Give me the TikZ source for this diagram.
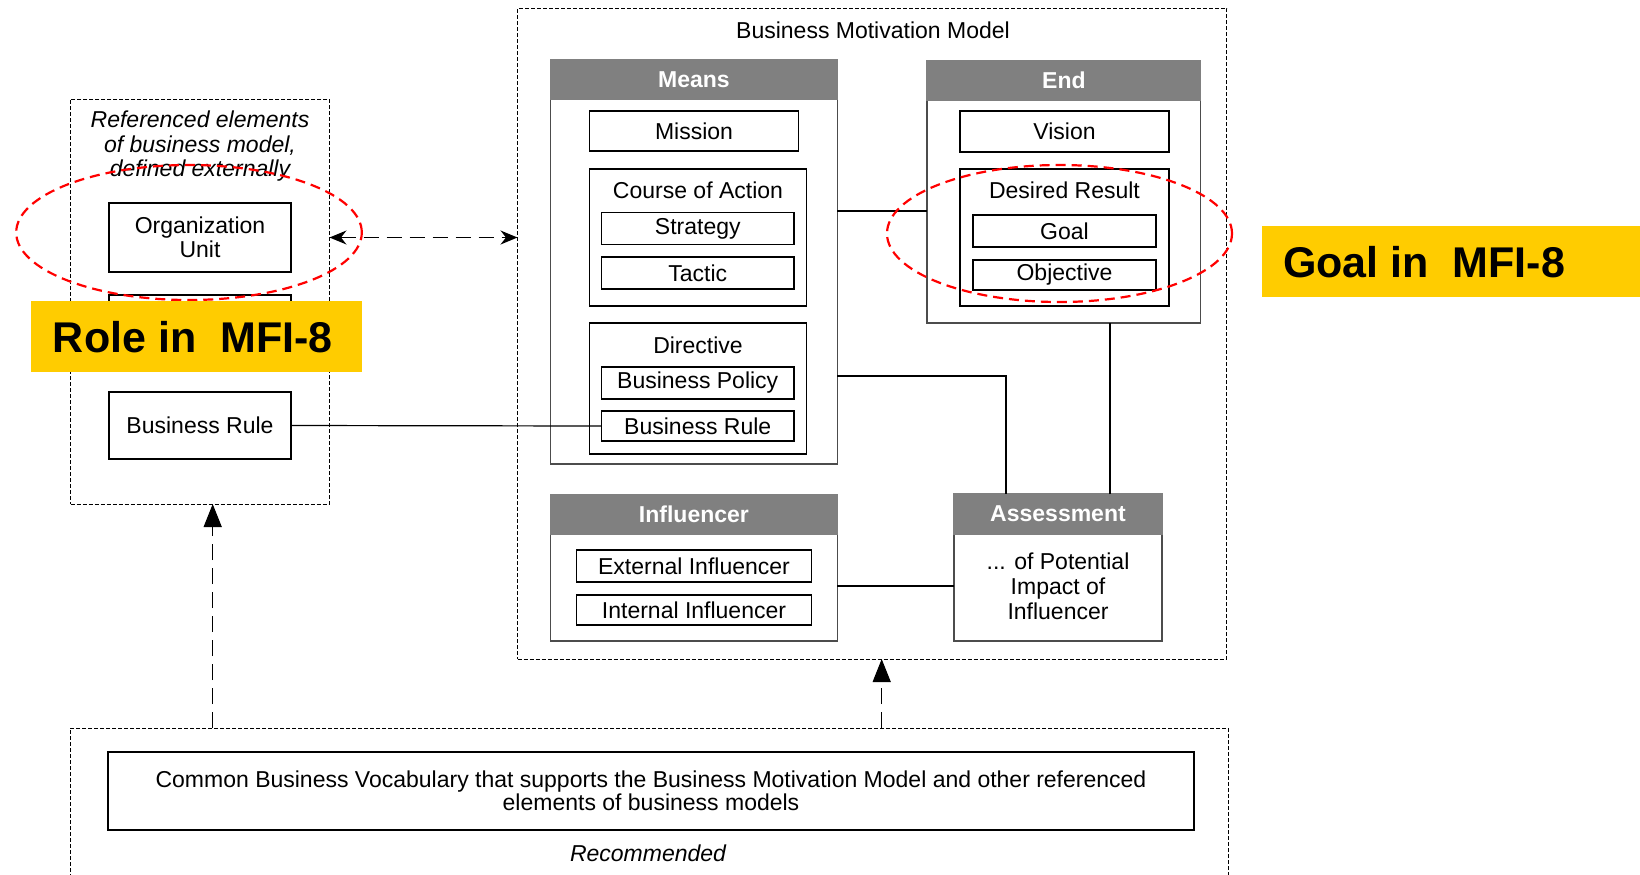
\documentclass[tikz,border=0pt]{standalone}
\usepackage{fontspec}
\setmainfont{Liberation Sans}
\usetikzlibrary{fit,calc,arrows.meta,shapes.geometric}
\definecolor{hdr}{HTML}{808080}
\definecolor{mfi}{HTML}{FFCC00}
\begin{document}
\begin{tikzpicture}[x=0.5pt,y=-0.5pt,
  every node/.style={font=\fontsize{11.5}{11.75}\selectfont, inner sep=0pt, outer sep=0pt},
  box/.style={draw=black, line width=0.6pt},
  txt/.style={label={[align=center]center:#1}},
  htxt/.style={label={[text=white, font=\fontsize{11.5}{12}\selectfont\bfseries]center:#1}},
  outerbox/.style={draw=black!70, line width=0.6pt},
  hdrbox/.style={fill=hdr, draw=hdr, line width=0.6pt},
  frame/.style={draw=black, line width=0.5pt, dash pattern=on 2pt off 1pt},
  conn/.style={line width=1.4pt},
  thinconn/.style={line width=0.6pt},
  dasharrow/.style={line width=0.6pt, dash pattern=on 8pt off 4pt, -{Triangle[length=11.5pt,width=9pt]}},
  dblarrow/.style={line width=0.6pt, dash pattern=on 7.5pt off 4pt, {Stealth[length=8.5pt,width=7pt]}-{Stealth[length=8.5pt,width=7pt]}},
  redell/.style={draw=red, line width=1.1pt, dash pattern=on 5pt off 3pt, ellipse},
  tag/.style={fill=mfi, inner sep=0pt},
  tagtext/.style={font=\fontsize{21.5}{24}\selectfont\bfseries, anchor=base west},
]
\clip (0,0) rectangle (1640,874);

% containers
\node[frame, fit={(70.6,99)(329.5,504)}] (leftbox) {};
\node[frame, fit={(517.5,8.3)(1226.7,659)}] (bmm) {};
\node[frame, fit={(70,728)(1228,900)}] (voc) {};

\node[align=center, font=\fontsize{11.5}{12.25}\selectfont\itshape] (reftxt) at (200,146.5) {Referenced elements\\of business model,\\defined externally};
\node (bmmtitle) at (873,30) {Business Motivation Model};

% left elements
\node[box, fit={(109,203)(291,272)}, txt={Organization\\Unit}] (org) {};
\node[box, fit={(109,295)(291,360)}] (hidden) {};
\node[box, fit={(109,392)(291,459)}, txt={Business Rule}] (brl) {};

% Means
\node[outerbox, fit={(550.5,60)(837.4,464)}] (means) {};
\node[hdrbox, fit={(550.5,60)(837.4,99)}, htxt={Means}] (meanshdr) {};
\node[box, fit={(589.7,111)(798.3,151)}, txt={Mission}] (mission) {};
\node[box, fit={(589.7,169)(806.8,306)}] (coa) {};
\node (coatxt) at (698,190) {Course of Action};
\node[box, fit={(601.5,212.7)(794,244.3)}, txt={Strategy}] (strategy) {};
\node[box, fit={(601.5,257)(794,289)}, txt={Tactic}] (tactic) {};
\node[box, fit={(589.7,323)(806.8,454)}] (directive) {};
\node (dirtxt) at (698,345) {Directive};
\node[box, fit={(601.5,367)(794,399)}, txt={Business Policy}] (policy) {};
\node[box, fit={(601.5,411)(794,441)}, txt={Business Rule}] (bri) {};

% End
\node[outerbox, fit={(927,61)(1200.8,323)}] (endbox) {};
\node[hdrbox, fit={(927,61)(1200.8,100)}, htxt={End}] (endhdr) {};
\node[box, fit={(960,111)(1169,152)}, txt={Vision}] (vision) {};
\node[box, fit={(960,169)(1169,306)}] (desired) {};
\node (destxt) at (1064.5,190) {Desired Result};
\node[box, fit={(973,215)(1156,247)}, txt={Goal}] (goal) {};
\node[box, fit={(973,260)(1156,290)}, txt={Objective}] (objective) {};

% Influencer
\node[outerbox, fit={(550.5,495)(837.4,641)}] (infl) {};
\node[hdrbox, fit={(550.5,495)(837.4,534)}, htxt={Influencer}] (inflhdr) {};
\node[box, fit={(576.5,550)(811.5,582)}, txt={External Influencer}] (extinf) {};
\node[box, fit={(576.5,595)(811.5,625)}, txt={Internal Influencer}] (intinf) {};

% Assessment
\node[outerbox, fit={(954,494)(1162,641)}] (assess) {};
\node[hdrbox, fit={(954,494)(1162,534)}, htxt={Assessment}] (asshdr) {};
\node[align=center, font=\fontsize{11.5}{12.5}\selectfont] (asstxt) at (1058,586) {... of Potential\\Impact of\\Influencer};

% vocabulary
\node[box, fit={(108,752)(1194,830)}, txt={Common Business Vocabulary that supports the Business Motivation Model and other referenced\\elements of business models}] (common) {};
\node[font=\fontsize{11.5}{12}\selectfont\itshape] (recom) at (648,853) {Recommended};

% connectors
\draw[conn] (means.east |- 0,211) -- (endbox.west |- 0,211);
\coordinate (a1) at ($(assess.north west)!0.25!(assess.north east)$);
\coordinate (a2) at ($(assess.north west)!0.75!(assess.north east)$);
\draw[conn] (means.east |- 0,376) -| (a1);
\draw[conn] (a2) -- (a2 |- endbox.south);
\draw[conn] (infl.east |- 0,586) -- (assess.west |- 0,586);
\draw[thinconn] (brl.east) -- (bri.west);
\draw[dblarrow] (leftbox.east |- org.center) -- (bmm.west |- org.center);
\draw[dasharrow] (voc.north -| 212.7,0) -- (leftbox.south -| 212.7,0);
\draw[dasharrow] (voc.north -| 881.7,0) -- (bmm.south -| 881.7,0);

% red ellipses
\node[redell, minimum width=172.8pt, minimum height=67.5pt] (ell1) at (189,232.5) {};
\node[redell, minimum width=172.5pt, minimum height=68.5pt] (ell2) at (1059.5,233.5) {};

% MFI tags
\node[tag, fit={(31,301)(362,372)}] (roletag) {};
\node[tagtext] (roletxt) at (53,352) {Role in\ \ MFI-8};
\node[tag, fit={(1262,226)(1660,297)}] (goaltag) {};
\node[tagtext] (goaltxt) at (1283,277) {Goal in\ \ MFI-8};
\end{tikzpicture}
\end{document}
